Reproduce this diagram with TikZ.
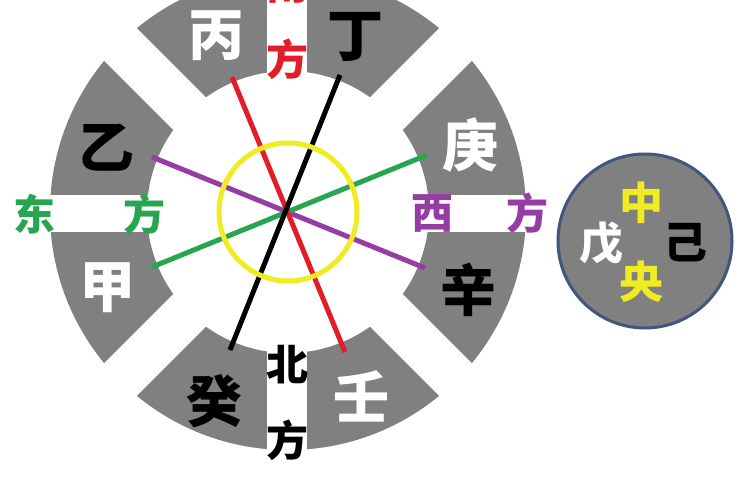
\documentclass[tikz,border=0pt]{standalone}
\usepackage{fontspec}
\newfontfamily\cjk{Noto Sans CJK SC}
\usetikzlibrary{calc}
\definecolor{ringgray}{RGB}{128,128,128}
\definecolor{cred}{RGB}{225,30,40}
\definecolor{cgreen}{RGB}{40,165,80}
\definecolor{cpurple}{RGB}{150,60,165}
\definecolor{cyellow}{RGB}{240,235,35}
\definecolor{cborder}{RGB}{65,85,125}
\tikzset{
  gz/.style={font=\cjk\bfseries\fontsize{56}{56}\selectfont, inner sep=0pt},
  fang/.style={font=\cjk\bfseries\fontsize{42}{42}\selectfont, inner sep=0pt},
  mid/.style={font=\cjk\bfseries\fontsize{44}{44}\selectfont, inner sep=0pt},
  axisline/.style={line width=5pt},
  band/.style={white, line width=46pt}
}
\begin{document}
\begin{tikzpicture}[x=1pt,y=-1pt]
\useasboundingbox (0,0) rectangle (750,500);
\clip (0,0) rectangle (750,500);
\fill[white] (0,0) rectangle (750,500);
\coordinate (C) at (288,212);
% ring
\fill[ringgray, even odd rule] (C) circle (238) (C) circle (141);
% diagonal gaps
\draw[band] ($(C)+(-300,-300)$) -- ($(C)+(300,300)$);
\draw[band] ($(C)+(-300,300)$) -- ($(C)+(300,-300)$);
% cardinal gaps
\fill[white] (40,195) rectangle (545,232);
\fill[white] (267,-10) rectangle (307,510);
% axis lines
\coordinate (r1) at (232,77);  \coordinate (r2) at (345,352);
\coordinate (k1) at (340,75);  \coordinate (k2) at (230,350);
\coordinate (p1) at (152,157); \coordinate (p2) at (425,268);
\coordinate (g1) at (152,267); \coordinate (g2) at (427,155);
\draw[axisline, cpurple] (p1) -- (p2);
\draw[axisline, cgreen] (g1) -- (g2);
\draw[axisline, cred] (r1) -- (r2);
\draw[axisline, black] (k1) -- (k2);
\draw[cyellow, line width=5pt] (C) circle (69);
% stems
\node[gz, white] (bing) at (216,36) {丙};
\node[gz, black] (ding) at (355,37) {丁};
\node[gz, black] (yi) at (106,148) {乙};
\node[gz, white] (jia) at (107,288) {甲};
\node[gz, white] (geng) at (470,145) {庚};
\node[gz, black] (xin) at (468,290) {辛};
\node[gz, black] (gui) at (214,401) {癸};
\node[gz, white] (ren) at (361,396) {壬};
% directions
\node[fang, cred] (nan) at (287,-16) {南};
\node[fang, cred] (nanf) at (287,59) {方};
\node[fang, cgreen] (dong) at (34,214) {东};
\node[fang, cgreen] (dongf) at (144,214) {方};
\node[fang, cpurple] (xi) at (432,213) {西};
\node[fang, cpurple] (xif) at (527,213) {方};
\node[fang, black] (bei) at (287,365) {北};
\node[fang, black] (beif) at (287,440) {方};
% centre disc
\coordinate (D) at (645,241);
\fill[ringgray, draw=cborder, line width=3pt] (D) circle (87);
\node[mid, cyellow] (zhong) at (641,203) {中};
\node[mid, cyellow] (yang) at (641,282) {央};
\node[mid, white] (wu) at (601,243) {戊};
\node[mid, black] (ji) at (685,243) {己};
\end{tikzpicture}
\end{document}
